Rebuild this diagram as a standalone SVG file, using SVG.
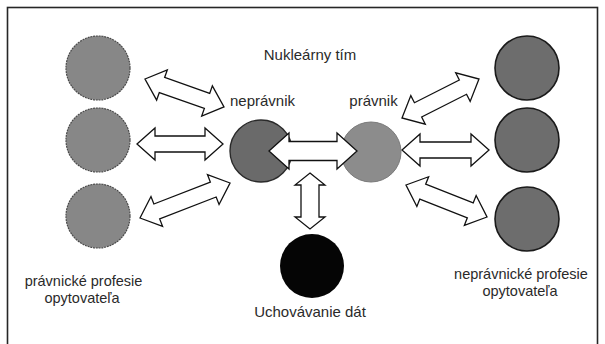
<svg xmlns="http://www.w3.org/2000/svg" width="605" height="344" viewBox="0 0 605 344">
  <style>
    .lbl { font-family: "Liberation Sans", Arial, Helvetica, sans-serif; font-size: 15px; fill: #2a2a2a; text-anchor: middle; }
    .cap { font-size: 14.5px; }
    .outer { fill: #878787; stroke: #4a4a4a; stroke-width: 1.2; stroke-dasharray: 2 0.8; }
    .inner { fill: #6d6d6d; stroke: #1a1a1a; stroke-width: 1.6; }
    .arrow { fill: #ffffff; stroke: #111111; stroke-width: 1.3; stroke-linejoin: miter; }
  </style>

  <!-- frame -->
  <rect x="7.5" y="7.5" width="590" height="350" fill="#ffffff" stroke="#262626" stroke-width="1.6"/>

  <!-- left column: legal professions -->
  <g id="pravnicke-1"><circle class="outer" cx="98" cy="68" r="32"/></g>
  <g id="pravnicke-2"><circle class="outer" cx="98" cy="140" r="32"/></g>
  <g id="pravnicke-3"><circle class="outer" cx="98" cy="216" r="32"/></g>
  <g id="pravnicke-label">
    <text class="lbl cap" x="83.5" y="286">právnické profesie</text>
    <text class="lbl cap" x="82" y="303">opytovateľa</text>
  </g>

  <!-- right column: non-legal professions -->
  <g id="nepravnicke-1"><circle class="inner" cx="527" cy="68" r="32"/></g>
  <g id="nepravnicke-2"><circle class="inner" cx="527" cy="140" r="32"/></g>
  <g id="nepravnicke-3"><circle class="inner" cx="527" cy="219" r="32"/></g>
  <g id="nepravnicke-label">
    <text class="lbl cap" x="521" y="279">neprávnické profesie</text>
    <text class="lbl cap" x="520" y="296">opytovateľa</text>
  </g>

  <!-- nuclear team -->
  <g id="team-title"><text class="lbl" x="310" y="60">Nukleárny tím</text></g>
  <g id="nepravnik">
    <circle cx="261" cy="151" r="31" fill="#6a6a6a" stroke="#2a2a2a" stroke-width="1.4"/>
    <text class="lbl" x="262.5" y="106">neprávnik</text>
  </g>
  <g id="pravnik">
    <circle cx="371" cy="152" r="30" fill="#8c8c8c" stroke="#7a7a7a" stroke-width="1"/>
    <text class="lbl" x="373.5" y="106">právnik</text>
  </g>

  <!-- data storage -->
  <g id="uchovavanie">
    <circle cx="312" cy="266" r="32" fill="#050505"/>
    <text class="lbl" x="310" y="317">Uchovávanie dát</text>
  </g>

  <!-- double-headed block arrows -->
  <g id="connectors">
    <path class="arrow" transform="translate(145,79) rotate(19.5)" d="M0,0 L18,-16 L18,-8 L65.8,-8 L65.8,-16 L83.8,0 L65.8,16 L65.8,8 L18,8 L18,16 Z"/>
    <path class="arrow" transform="translate(137,144)" d="M0,0 L18,-16 L18,-8 L68,-8 L68,-16 L86,0 L68,16 L68,8 L18,8 L18,16 Z"/>
    <path class="arrow" transform="translate(140,218) rotate(-21.25)" d="M0,0 L18,-16 L18,-8 L78.6,-8 L78.6,-16 L96.6,0 L78.6,16 L78.6,8 L18,8 L18,16 Z"/>
    <path class="arrow" transform="translate(269,151)" d="M0,0 L20,-18 L20,-9.5 L68,-9.5 L68,-18 L88,0 L68,18 L68,9.5 L20,9.5 L20,18 Z"/>
    <path class="arrow" transform="translate(402,118) rotate(-26.86)" d="M0,0 L18,-16 L18,-8 L68.3,-8 L68.3,-16 L86.3,0 L68.3,16 L68.3,8 L18,8 L18,16 Z"/>
    <path class="arrow" transform="translate(402,150)" d="M0,0 L18,-16 L18,-8 L69,-8 L69,-16 L87,0 L69,16 L69,8 L18,8 L18,16 Z"/>
    <path class="arrow" transform="translate(406,185) rotate(21.56)" d="M0,0 L18,-16 L18,-8 L69.1,-8 L69.1,-16 L87.1,0 L69.1,16 L69.1,8 L18,8 L18,16 Z"/>
    <path class="arrow" transform="translate(310,173) rotate(90)" d="M0,0 L12,-15 L12,-9 L44,-9 L44,-15 L56,0 L44,15 L44,9 L12,9 L12,15 Z"/>
  </g>
</svg>
